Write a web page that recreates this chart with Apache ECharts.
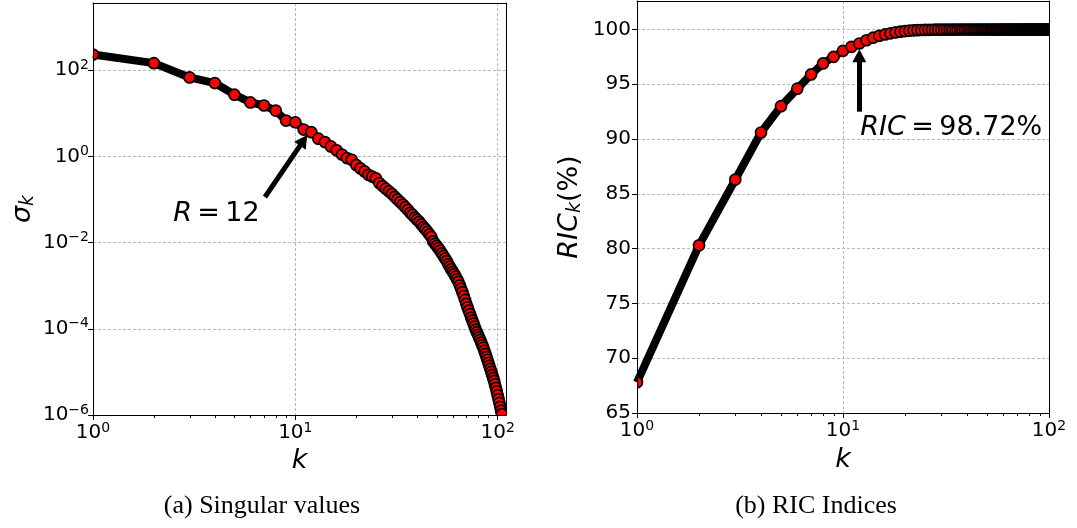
<!DOCTYPE html>
<html>
<head>
<meta charset="utf-8">
<script src="https://cdn.jsdelivr.net/npm/echarts@6/dist/echarts.min.js"></script>
<style>
  html, body { margin: 0; padding: 0; background: #fff; }
  #chart { width: 1077px; height: 528px; }
</style>
</head>
<body>
<div id="chart"></div>
<script>
// Singular values sigma_k, k = 1 .. 105
const sigma = [
  229, 145, 67.6, 50.1, 26.9, 17.8, 15.1, 11.5, 6.76, 6.17,
  4.17, 3.63, 2.57, 2.14, 1.70, 1.38, 1.10, 0.912, 0.832, 0.631,
  0.525, 0.447, 0.372, 0.339, 0.309, 0.240, 0.204, 0.178, 0.155, 0.135,
  0.115, 0.100, 0.0871, 0.0759, 0.0661, 0.0575, 0.0490, 0.0437, 0.0380, 0.0339,
  0.0302, 0.0263, 0.0229, 0.0204, 0.0178, 0.0155, 0.0135, 0.0107, 0.00933, 0.00832,
  0.00741, 0.00646, 0.00562, 0.00490, 0.00427, 0.00372, 0.00316, 0.00275, 0.00240, 0.00209,
  0.00186, 0.00162, 0.00141, 0.00123, 0.00102, 8.51e-4, 7.08e-4, 5.75e-4, 4.68e-4, 3.80e-4,
  3.16e-4, 2.63e-4, 2.19e-4, 1.82e-4, 1.55e-4, 1.32e-4, 1.12e-4, 9.55e-5, 8.32e-5, 7.24e-5,
  6.31e-5, 5.50e-5, 4.79e-5, 4.17e-5, 3.63e-5, 3.09e-5, 2.63e-5, 2.24e-5, 1.91e-5, 1.62e-5,
  1.38e-5, 1.17e-5, 1.00e-5, 8.51e-6, 7.24e-6, 6.17e-6, 5.13e-6, 4.27e-6, 3.55e-6, 2.88e-6,
  2.34e-6, 1.91e-6, 1.55e-6, 1.26e-6, 1.05e-6
];

// RIC_k (%), k = 1 .. 105 (the axis stops at k = 100)
const ric = [
  67.8, 80.3, 86.3, 90.6, 93.0, 94.6, 95.9, 96.9, 97.5, 98.05,
  98.42, 98.72, 99.02, 99.25, 99.42, 99.55, 99.65, 99.73, 99.80, 99.85,
  99.89, 99.92, 99.94, 99.955, 99.965, 99.972, 99.978, 99.982, 99.986, 99.989,
  99.991, 99.993, 99.994, 99.995, 99.996, 99.997, 99.997, 99.998, 99.998, 99.998,
  99.999, 99.999, 99.999, 99.999, 99.999, 99.999, 99.999, 99.999, 99.999, 99.999,
  99.999, 99.999, 99.999, 99.999, 99.999, 100, 100, 100, 100, 100,
  100, 100, 100, 100, 100, 100, 100, 100, 100, 100,
  100, 100, 100, 100, 100, 100, 100, 100, 100, 100,
  100, 100, 100, 100, 100, 100, 100, 100, 100, 100,
  100, 100, 100, 100, 100, 100, 100, 100, 100, 100,
  100, 100, 100, 100, 100
];

// Minor tick positions on the log k axes
const minorK = [2, 3, 4, 5, 6, 7, 8, 9, 20, 30, 40, 50, 60, 70, 80, 90];

// Axis ranges
const kRangeA = [1, 110];
const sigmaRange = [1e-6, 3600];
const kRangeB = [1, 100];
const ricRange = [65, 102.6];
const ricTicks = [65, 70, 75, 80, 85, 90, 95, 100];

// Annotations: arrow tail / head and text anchor in data coordinates
const annA = { tail: [7.08, 0.1137], head: [10.99, 2.35], at: [2.49, 0.0458] };
const annB = { tail: [12, 92.5], head: [12, 97.6], at: [12.13, 91.0] };

const captions = ['(a) Singular values', '(b) RIC Indices'];

const FONT = 'DejaVu Sans';
const THIN = '\u2009';
const sigmaData = sigma.map((v, i) => [i + 1, v]);
const ricData = ric.map((v, i) => [i + 1, v]);
// the thick line only needs the part inside the k axis range
const sigmaLine = sigmaData.filter(d => d[0] <= kRangeA[1]);
const ricLine = ricData.filter(d => d[0] <= kRangeB[1]);

const powRich = {
  b: { fontSize: 20, fontFamily: FONT, color: '#000' },
  s: { fontSize: 14, fontFamily: FONT, color: '#000', padding: [0, 0, 10, 0] }
};
function powLabel(v) {
  const e = Math.log10(v);
  const r = Math.round(e);
  if (Math.abs(e - r) > 1e-6) return '';
  return '{b|10}{s|' + (r < 0 ? '\u2212' + (-r) : r) + '}';
}

const gridLine = { show: true, lineStyle: { color: '#b8b8b8', width: 1, type: [3, 2] } };
const blackLine = { show: true, lineStyle: { color: '#000', width: 1 } };
const tick = { show: true, length: 5, lineStyle: { color: '#000', width: 1 } };

function hiddenAxis(extra) {
  return Object.assign({
    axisLabel: { show: false }, axisTick: { show: false },
    axisLine: { show: false }, splitLine: { show: false }
  }, extra);
}

function minorTicks(xIdx, yIdx, yBase) {
  return {
    type: 'custom', xAxisIndex: xIdx, yAxisIndex: yIdx, silent: true, z: 12, clip: false,
    data: minorK.map(k => [k, yBase]),
    renderItem: function (params, api) {
      const p = api.coord([api.value(0), api.value(1)]);
      const x = Math.round(p[0]) + 0.5;
      return { type: 'line', shape: { x1: x, y1: p[1], x2: x, y2: p[1] + 3 },
               style: { stroke: '#000', lineWidth: 1 } };
    }
  };
}

// Round markers, cut at the plot frame like the line itself
function markers(xIdx, yIdx, data) {
  return {
    type: 'custom', xAxisIndex: xIdx, yAxisIndex: yIdx, silent: true, z: 3, data: data,
    renderItem: function (params, api) {
      const p = api.coord([api.value(0), api.value(1)]);
      const cs = params.coordSys;
      return {
        type: 'circle', shape: { cx: p[0], cy: p[1], r: 5.5 },
        style: { fill: '#ff0000', stroke: '#000', lineWidth: 1.7 },
        clipPath: { type: 'rect', shape: { x: cs.x, y: cs.y, width: cs.width, height: cs.height } }
      };
    }
  };
}

const italic = { fontFamily: FONT, fontStyle: 'italic', color: '#000' };
const upright = { fontFamily: FONT, color: '#000' };

function curve(xIdx, yIdx, data, ann, text) {
  return {
    type: 'line', xAxisIndex: xIdx, yAxisIndex: yIdx, data: data, clip: true,
    showSymbol: false,
    lineStyle: { color: '#000', width: 8, cap: 'butt', join: 'round' },
    emphasis: { disabled: true }, silent: true, z: 2,
    markLine: {
      silent: true, symbol: ['none', 'triangle'], symbolSize: [14, 13], precision: 6,
      lineStyle: { color: '#000', width: 5, type: 'solid', cap: 'butt' }, label: { show: false },
      emphasis: { disabled: true },
      data: [[{ coord: ann.tail }, { coord: ann.head }]]
    },
    markPoint: {
      silent: true, symbol: 'circle', symbolSize: 0,
      label: { show: true, position: 'inside', align: 'left', verticalAlign: 'middle',
        formatter: text, fontSize: 27, fontFamily: FONT, color: '#000',
        rich: { i: Object.assign({ fontSize: 27 }, italic) } },
      data: [{ coord: ann.at }]
    }
  };
}

const captionFont = '26px "Liberation Serif"';

const option = {
  animation: false,
  grid: [
    { left: 93, top: 3, width: 413, height: 412 },
    { left: 637, top: 1, width: 412, height: 412 }
  ],
  xAxis: [
    // panel a
    { type: 'log', gridIndex: 0, min: kRangeA[0], max: kRangeA[1], z: 10,
      axisLine: blackLine, axisTick: tick, splitLine: { show: false },
      axisLabel: { formatter: powLabel, rich: powRich, margin: 6, showMaxLabel: false },
      name: 'k', nameLocation: 'middle', nameGap: 30,
      nameTextStyle: Object.assign({ fontSize: 27 }, italic) },
    hiddenAxis({ type: 'log', gridIndex: 0, min: kRangeA[0], max: kRangeA[1], z: 0, splitLine: gridLine }),
    hiddenAxis({ type: 'log', gridIndex: 0, min: kRangeA[0], max: kRangeA[1], z: 10, position: 'top', axisLine: blackLine }),
    // panel b
    { type: 'log', gridIndex: 1, min: kRangeB[0], max: kRangeB[1], z: 10,
      axisLine: blackLine, axisTick: tick, splitLine: { show: false },
      axisLabel: { formatter: powLabel, rich: powRich, margin: 6 },
      name: 'k', nameLocation: 'middle', nameGap: 33,
      nameTextStyle: Object.assign({ fontSize: 27 }, italic) },
    hiddenAxis({ type: 'log', gridIndex: 1, min: kRangeB[0], max: kRangeB[1], z: 0, splitLine: gridLine }),
    hiddenAxis({ type: 'log', gridIndex: 1, min: kRangeB[0], max: kRangeB[1], z: 10, position: 'top', axisLine: blackLine })
  ],
  yAxis: [
    // panel a
    { type: 'log', logBase: 100, gridIndex: 0, min: sigmaRange[0], max: sigmaRange[1], z: 10,
      axisLine: blackLine, axisTick: tick, splitLine: { show: false },
      axisLabel: { formatter: powLabel, rich: powRich, margin: 4, showMaxLabel: false },
      name: '{i|\u03c3}{sub|k}', nameLocation: 'middle', nameGap: 55,
      nameTextStyle: { rich: {
        i: Object.assign({ fontSize: 27 }, italic),
        sub: Object.assign({ fontSize: 19, padding: [12, 0, 0, 0] }, italic)
      } } },
    hiddenAxis({ type: 'log', logBase: 100, gridIndex: 0, min: sigmaRange[0], max: sigmaRange[1], z: 0, splitLine: gridLine }),
    hiddenAxis({ type: 'log', logBase: 100, gridIndex: 0, min: sigmaRange[0], max: sigmaRange[1], z: 10, position: 'right', axisLine: blackLine }),
    // panel b
    { type: 'value', gridIndex: 1, min: ricRange[0], max: ricRange[1], interval: 5, z: 10,
      axisLine: blackLine, axisTick: tick, splitLine: { show: false },
      axisLabel: { fontSize: 20, fontFamily: FONT, color: '#000', margin: 6, showMaxLabel: false,
        formatter: v => (ricTicks.indexOf(v) >= 0 ? String(v) : '') },
      name: '{i|RIC}{sub|k}{n|(%)}', nameLocation: 'middle', nameGap: 52,
      nameTextStyle: { rich: {
        i: Object.assign({ fontSize: 27 }, italic),
        sub: Object.assign({ fontSize: 19, padding: [12, 0, 0, 0] }, italic),
        n: Object.assign({ fontSize: 27 }, upright)
      } } },
    hiddenAxis({ type: 'value', gridIndex: 1, min: ricRange[0], max: ricRange[1], interval: 5, z: 0, splitLine: gridLine }),
    hiddenAxis({ type: 'value', gridIndex: 1, min: ricRange[0], max: ricRange[1], interval: 5, z: 10, position: 'right', axisLine: blackLine })
  ],
  series: [
    curve(0, 0, sigmaLine, annA, '{i|R}' + THIN + '=' + THIN + '12'),
    markers(0, 0, sigmaData),
    curve(3, 3, ricLine, annB, '{i|RIC}' + THIN + '=' + THIN + '98.72%'),
    markers(3, 3, ricData),
    minorTicks(0, 0, sigmaRange[0]),
    minorTicks(3, 3, ricRange[0])
  ],
  graphic: [
    { type: 'text', x: 262, y: 506, silent: true,
      style: { text: captions[0], font: captionFont, fill: '#000', align: 'center', verticalAlign: 'middle' } },
    { type: 'text', x: 816, y: 506, silent: true,
      style: { text: captions[1], font: captionFont, fill: '#000', align: 'center', verticalAlign: 'middle' } }
  ]
};

const chart = echarts.init(document.getElementById('chart'), null, { renderer: 'canvas' });
chart.setOption(option);
</script>
</body>
</html>
